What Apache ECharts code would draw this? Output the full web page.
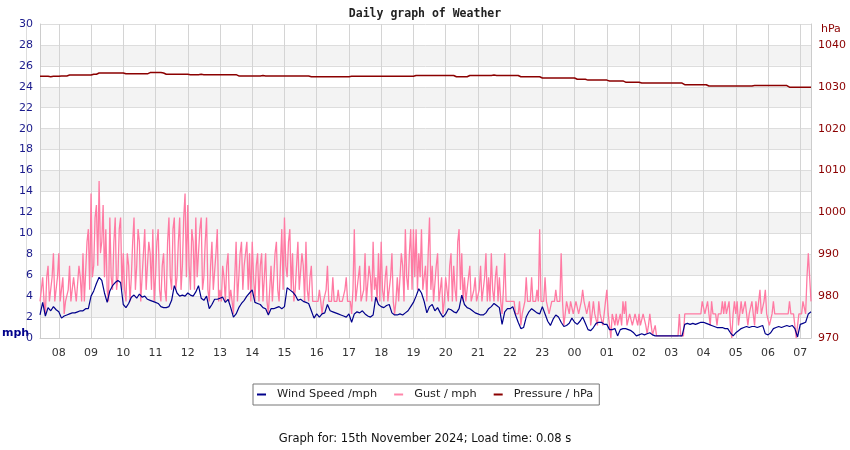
<!DOCTYPE html>
<html><head><meta charset="utf-8">
<script src="https://cdn.jsdelivr.net/npm/echarts@6/dist/echarts.min.js"></script>
<style>html,body{margin:0;padding:0;background:#fff}#c{width:850px;height:450px}</style>
</head><body><div id="c"></div>
<script>
// wind / pressure: 5-minute readings from 07:25 (14 Nov) to 07:20 (15 Nov)
// gust: 2.5-minute readings over the same span
const START_MIN = 7 * 60 + 25;
const STEP_MIN = 5;
const N_POINTS = 288;
const GUST_STEP_MIN = 2.5;
const N_GUST = 575;

const seriesNames = ['Wind Speed /mph', 'Gust / mph', 'Pressure / hPa'];

// Wind speed, mph (per hour block)
const windSpeed = [
  2.2, 3.4, 2.1, 2.9, 2.6, 3.0, 2.7,
  2.5, 1.9, 2.1, 2.2, 2.3, 2.4, 2.4, 2.5, 2.6, 2.6, 2.8, 2.8,
  4.0, 4.5, 5.2, 5.8, 5.5, 4.3, 3.4, 4.5, 5.0, 5.3, 5.5, 5.3,
  3.2, 2.9, 3.3, 3.9, 4.1, 3.8, 4.2, 3.9, 4.0, 3.7, 3.6, 3.5,
  3.4, 3.3, 3.0, 2.9, 2.9, 3.0, 3.6, 5.0, 4.3, 4.0, 4.1, 4.0,
  4.3, 4.1, 4.0, 4.4, 5.0, 3.8, 3.6, 4.0, 2.8, 3.2, 3.7, 3.7,
  3.8, 3.9, 3.4, 3.7, 2.9, 2.0, 2.3, 2.9, 3.3, 3.6, 4.0, 4.3,
  4.6, 3.4, 3.3, 3.2, 2.9, 2.8, 2.2, 2.8, 2.8, 2.9, 3.0, 2.8,
  3.0, 4.8, 4.6, 4.4, 4.1, 3.6, 3.7, 3.5, 3.4, 3.3, 2.6, 1.9,
  2.3, 2.0, 2.3, 2.4, 3.2, 2.6, 2.5, 2.4, 2.3, 2.2, 2.1, 2.0,
  2.3, 1.5, 2.3, 2.5, 2.4, 2.6, 2.3, 2.1, 2.0, 2.2, 3.9, 3.2,
  3.0, 2.9, 3.1, 3.2, 2.4, 2.2, 2.2, 2.3, 2.2, 2.4, 2.6, 3.0,
  3.4, 4.0, 4.7, 4.3, 3.5, 2.4, 3.0, 3.2, 2.6, 2.9, 2.4, 2.0,
  2.3, 2.8, 2.7, 2.5, 2.4, 2.8, 4.1, 3.2, 2.9, 2.8, 2.6, 2.4,
  2.3, 2.2, 2.2, 2.4, 2.8, 3.0, 3.3, 3.1, 2.9, 1.3, 2.5, 2.8,
  2.8, 3.0, 2.2, 1.5, 0.9, 1.0, 2.0, 2.5, 2.8, 2.6, 2.4, 2.3,
  3.0, 2.3, 1.6, 1.2, 1.8, 2.2, 2.0, 1.5, 1.1, 1.2, 1.4, 1.9,
  1.5, 1.3, 1.6, 2.0, 1.4, 0.8, 0.7, 1.0, 1.4, 1.5, 1.5, 1.3,
  1.3, 0.8, 0.8, 0.9, 0.2, 0.8, 0.9, 0.9, 0.8, 0.7, 0.5, 0.2,
  0.3, 0.4, 0.3, 0.4, 0.5, 0.3, 0.2, 0.2, 0.2, 0.2, 0.2, 0.2,
  0.2, 0.2, 0.2, 0.2, 0.2, 1.3, 1.4, 1.3, 1.4, 1.3, 1.4, 1.5,
  1.5, 1.4, 1.3, 1.2, 1.1, 1.0, 1.0, 1.0, 0.9, 0.9, 0.5, 0.2,
  0.5, 0.7, 0.9, 1.0, 1.1, 1.0, 1.1, 1.1, 1.0, 1.1, 1.2, 0.4,
  0.3, 0.5, 0.9, 1.0, 1.1, 1.0, 1.1, 1.2, 1.1, 1.2, 0.9, 0.1,
  1.3, 1.4, 1.5, 2.3, 2.5
];

// Gust, mph (2.5-minute readings, per hour block)
const gust = [
  3.5, 4.6, 5.8, 3.5, 2.3, 5.8, 6.9, 3.5, 3.5, 5.8, 8.1, 3.5, 3.5, 5.8,
  8.1, 3.5, 3.5, 5.8, 2.3, 3.5, 3.5, 4.6, 6.9, 3.5, 3.5, 5.8, 4.6, 3.5, 3.5, 6.9, 5.8, 3.5, 8.1, 3.5, 3.5, 9.2, 10.4, 4.6,
  13.8, 5.8, 6.9, 11.5, 12.7, 6.9, 15.0, 8.1, 9.2, 12.7, 5.8, 10.4, 4.6, 3.5, 11.5, 5.8, 4.6, 9.2, 11.5, 4.6, 5.8, 10.4, 11.5, 4.6,
  8.1, 4.6, 3.5, 8.1, 6.9, 3.5, 5.8, 9.2, 11.5, 4.6, 6.9, 10.4, 9.2, 3.5, 5.8, 8.1, 10.4, 4.6, 6.9, 9.2, 8.1, 4.6, 10.4, 3.5,
  5.8, 9.2, 10.4, 4.6, 3.5, 6.9, 8.1, 4.6, 3.5, 9.2, 11.5, 5.8, 4.6, 10.4, 11.5, 4.6, 5.8, 9.2, 11.5, 4.6, 6.9, 11.5, 13.8, 5.8,
  12.7, 6.9, 4.6, 10.4, 9.2, 4.6, 11.5, 5.8, 8.1, 10.4, 11.5, 4.6, 5.8, 9.2, 11.5, 4.6, 3.5, 6.9, 9.2, 4.6, 4.6, 8.1, 10.4, 3.5,
  4.6, 3.5, 6.9, 5.8, 3.5, 6.9, 8.1, 3.5, 4.6, 3.5, 2.3, 5.8, 9.2, 3.5, 5.8, 8.1, 9.2, 4.6, 6.9, 8.1, 9.2, 4.6, 8.1, 3.5,
  9.2, 5.8, 3.5, 6.9, 8.1, 3.5, 6.9, 8.1, 3.5, 5.8, 8.1, 3.5, 2.3, 4.6, 6.9, 3.5, 3.5, 8.1, 9.2, 4.6, 3.5, 6.9, 10.4, 4.6,
  11.5, 6.9, 5.8, 9.2, 10.4, 4.6, 8.1, 3.5, 4.6, 6.9, 9.2, 4.6, 4.6, 8.1, 6.9, 3.5, 9.2, 4.6, 3.5, 5.8, 6.9, 3.5, 3.5, 3.5,
  3.5, 3.5, 4.6, 3.5, 2.3, 3.5, 3.5, 4.6, 6.9, 3.5, 3.5, 3.5, 5.8, 3.5, 3.5, 3.5, 4.6, 3.5, 3.5, 3.5, 3.5, 4.6, 5.8, 3.5,
  3.5, 3.5, 2.3, 4.6, 10.4, 3.5, 3.5, 5.8, 6.9, 3.5, 3.5, 4.6, 8.1, 3.5, 3.5, 6.9, 5.8, 3.5, 9.2, 4.6, 5.8, 3.5, 8.1, 3.5,
  9.2, 4.6, 3.5, 5.8, 6.9, 3.5, 3.5, 5.8, 8.1, 3.5, 2.3, 3.5, 5.8, 3.5, 3.5, 8.1, 6.9, 3.5, 10.4, 5.8, 4.6, 8.1, 10.4, 4.6,
  10.4, 5.8, 10.4, 4.6, 8.1, 5.8, 10.4, 4.6, 5.8, 6.9, 3.5, 8.1, 11.5, 4.6, 6.9, 3.5, 3.5, 6.9, 8.1, 3.5, 4.6, 5.8, 2.3, 3.5,
  5.8, 4.6, 3.5, 6.9, 8.1, 3.5, 6.9, 4.6, 3.5, 9.2, 10.4, 4.6, 8.1, 3.5, 5.8, 3.5, 3.5, 5.8, 6.9, 3.5, 3.5, 4.6, 5.8, 3.5,
  3.5, 4.6, 6.9, 3.5, 3.5, 5.8, 8.1, 3.5, 5.8, 3.5, 8.1, 4.6, 3.5, 5.8, 6.9, 3.5, 5.8, 3.5, 2.3, 4.6, 8.1, 3.5, 3.5, 3.5,
  3.5, 3.5, 3.5, 3.5, 2.3, 2.3, 2.3, 3.5, 1.2, 2.3, 2.3, 3.5, 5.8, 3.5, 3.5, 3.5, 5.8, 3.5, 3.5, 3.5, 4.6, 3.5, 10.4, 3.5,
  3.5, 3.5, 5.8, 3.5, 3.5, 2.3, 2.3, 3.5, 3.5, 3.5, 4.6, 3.5, 3.5, 3.5, 8.1, 3.5, 1.2, 2.3, 3.5, 3.5, 2.3, 3.5, 3.5, 2.3,
  2.3, 3.5, 3.5, 2.3, 2.3, 3.5, 4.6, 3.5, 3.5, 2.3, 2.3, 3.5, 1.2, 2.3, 3.5, 2.3, 2.3, 1.2, 3.5, 2.3, 2.3, 1.2, 2.3, 3.5,
  4.6, 2.3, 1.2, 0.0, 2.3, 2.3, 1.2, 2.3, 1.2, 1.2, 2.3, 1.2, 3.5, 2.3, 3.5, 1.2, 1.2, 2.3, 2.3, 1.2, 1.2, 2.3, 2.3, 1.2,
  2.3, 1.2, 1.2, 2.3, 2.3, 1.2, 0.4, 1.2, 2.3, 1.2, 0.3, 0.3, 1.2, 0.2, 0.2, 0.2, 0.2, 0.2, 0.2, 0.2, 0.2, 0.2, 0.2, 0.2,
  0.2, 0.2, 0.2, 0.2, 0.2, 0.2, 2.3, 0.2, 0.2, 0.2, 2.3, 2.3, 2.3, 2.3, 2.3, 2.3, 2.3, 2.3, 2.3, 2.3, 2.3, 2.3, 2.3, 3.5,
  3.5, 2.3, 2.3, 3.5, 2.3, 1.2, 3.5, 2.3, 2.3, 2.3, 1.2, 2.3, 2.3, 2.3, 3.5, 2.3, 3.5, 2.3, 2.3, 3.5, 1.2, 0.0, 2.3, 3.5,
  2.3, 3.5, 1.2, 2.3, 3.5, 2.3, 2.3, 3.5, 3.5, 1.2, 2.3, 2.3, 3.5, 2.3, 1.2, 3.5, 2.3, 2.3, 4.6, 2.3, 2.3, 3.5, 4.6, 2.3,
  2.3, 1.2, 1.2, 2.3, 3.5, 2.3, 2.3, 2.3, 2.3, 2.3, 2.3, 2.3, 2.3, 2.3, 2.3, 2.3, 3.5, 2.3, 2.3, 2.3, 2.3, 0.0, 1.2, 2.3,
  2.3, 2.3, 3.5, 3.5, 2.3, 5.8, 8.1, 5.8, 3.5
];

// Pressure, hPa
const pressure = [
  1032.5, 1032.5, 1032.5, 1032.4, 1032.5, 1032.5, 1032.5,
  1032.6, 1032.6, 1032.6, 1032.8, 1032.8, 1032.8, 1032.8, 1032.8, 1032.8, 1032.8, 1032.8, 1032.8,
  1033.0, 1033.0, 1033.3, 1033.3, 1033.3, 1033.3, 1033.3, 1033.3, 1033.3, 1033.3, 1033.3, 1033.3,
  1033.1, 1033.1, 1033.1, 1033.1, 1033.1, 1033.1, 1033.1, 1033.1, 1033.1, 1033.4, 1033.4, 1033.4,
  1033.4, 1033.4, 1033.3, 1033.0, 1033.0, 1033.0, 1033.0, 1033.0, 1033.0, 1033.0, 1033.0, 1033.0,
  1032.9, 1032.9, 1032.9, 1032.9, 1033.0, 1032.9, 1032.9, 1032.9, 1032.9, 1032.9, 1032.9, 1032.9,
  1032.9, 1032.9, 1032.9, 1032.9, 1032.9, 1032.9, 1032.6, 1032.6, 1032.6, 1032.6, 1032.6, 1032.6,
  1032.6, 1032.6, 1032.6, 1032.7, 1032.6, 1032.6, 1032.6, 1032.6, 1032.6, 1032.6, 1032.6, 1032.6,
  1032.6, 1032.6, 1032.6, 1032.6, 1032.6, 1032.6, 1032.6, 1032.6, 1032.6, 1032.4, 1032.4, 1032.4,
  1032.4, 1032.4, 1032.4, 1032.4, 1032.4, 1032.4, 1032.4, 1032.4, 1032.4, 1032.4, 1032.4, 1032.4,
  1032.5, 1032.5, 1032.5, 1032.5, 1032.5, 1032.5, 1032.5, 1032.5, 1032.5, 1032.5, 1032.5, 1032.5,
  1032.5, 1032.5, 1032.5, 1032.5, 1032.5, 1032.5, 1032.5, 1032.5, 1032.5, 1032.5, 1032.5, 1032.5,
  1032.7, 1032.7, 1032.7, 1032.7, 1032.7, 1032.7, 1032.7, 1032.7, 1032.7, 1032.7, 1032.7, 1032.7,
  1032.7, 1032.7, 1032.7, 1032.4, 1032.4, 1032.4, 1032.4, 1032.4, 1032.7, 1032.7, 1032.7, 1032.7,
  1032.7, 1032.7, 1032.7, 1032.7, 1032.7, 1032.8, 1032.7, 1032.7, 1032.7, 1032.7, 1032.7, 1032.7,
  1032.7, 1032.7, 1032.7, 1032.4, 1032.4, 1032.4, 1032.4, 1032.4, 1032.4, 1032.4, 1032.4, 1032.1,
  1032.1, 1032.1, 1032.1, 1032.1, 1032.1, 1032.1, 1032.1, 1032.1, 1032.1, 1032.1, 1032.1, 1032.1,
  1031.8, 1031.8, 1031.8, 1031.8, 1031.6, 1031.6, 1031.6, 1031.6, 1031.6, 1031.6, 1031.6, 1031.6,
  1031.4, 1031.4, 1031.4, 1031.4, 1031.4, 1031.4, 1031.1, 1031.1, 1031.1, 1031.1, 1031.1, 1031.1,
  1030.9, 1030.9, 1030.9, 1030.9, 1030.9, 1030.9, 1030.9, 1030.9, 1030.9, 1030.9, 1030.9, 1030.9,
  1030.9, 1030.9, 1030.9, 1030.9, 1030.5, 1030.5, 1030.5, 1030.5, 1030.5, 1030.5, 1030.5, 1030.5,
  1030.5, 1030.2, 1030.2, 1030.2, 1030.2, 1030.2, 1030.2, 1030.2, 1030.2, 1030.2, 1030.2, 1030.2,
  1030.2, 1030.2, 1030.2, 1030.2, 1030.2, 1030.2, 1030.3, 1030.3, 1030.3, 1030.3, 1030.3, 1030.3,
  1030.3, 1030.3, 1030.3, 1030.3, 1030.3, 1030.3, 1030.3, 1029.9, 1029.9, 1029.9, 1029.9, 1029.9,
  1029.9, 1029.9, 1029.9, 1029.9, 1029.8
];

// axis ranges / ticks
const mphAxis = { min: 0, max: 30, interval: 2 };
const hpaAxis = { min: 970, max: 1045, interval: 10, lastLabel: 1040 };

const titleText = 'Daily graph of Weather';
const footerText = 'Graph for: 15th November 2024; Load time: 0.08 s';

// category labels
function clock(totalMin) {
  const t = ((totalMin % 1440) + 1440) % 1440;
  const hh = String(Math.floor(t / 60)).padStart(2, '0');
  const mm = String(Math.floor(t % 60)).padStart(2, '0');
  const ss = (t % 1) ? ':30' : ':00';
  return hh + ':' + mm + ss;
}
const times = [];
for (let i = 0; i < N_POINTS; i++) times.push(clock(START_MIN + i * STEP_MIN).slice(0, 5));
const gustTimes = [];
for (let i = 0; i < N_GUST; i++) gustTimes.push(clock(START_MIN + i * GUST_STEP_MIN));
const onHour = (idx, v) => v.endsWith(':00');

const FONT = 'DejaVu Sans';
const chart = echarts.init(document.getElementById('c'), null, { renderer: 'canvas' });
chart.setOption({
  animation: false,
  backgroundColor: '#fff',
  title: {
    text: titleText, left: 'center', top: 3,
    textStyle: { fontFamily: 'DejaVu Sans Mono', fontWeight: 'bold', fontSize: 11.5, color: '#222' }
  },
  grid: { left: 40, right: 39, top: 24, bottom: 112, containLabel: false },
  legend: {
    data: seriesNames, left: 253, top: 384, icon: 'rect', itemWidth: 9, itemHeight: 2, itemGap: 17,
    borderColor: '#777', borderWidth: 1, borderRadius: 0, padding: [5, 6, 5, 4],
    textStyle: { fontFamily: FONT, fontSize: 11.3, color: '#222', padding: [0, 0, 0, 6] }
  },
  xAxis: [
    {
      type: 'category', data: times, boundaryGap: false,
      axisLine: { show: true, lineStyle: { color: '#cccccc' } },
      axisTick: { show: false },
      axisLabel: { interval: onHour, formatter: v => v.slice(0, 2), color: '#333', fontFamily: FONT, fontSize: 11, margin: 10 },
      splitLine: { show: true, interval: onHour, lineStyle: { color: '#d4d4d4', width: 1 } }
    },
    { type: 'category', data: gustTimes, boundaryGap: false, show: false }
  ],
  yAxis: [
    {
      type: 'value', position: 'left', min: mphAxis.min, max: mphAxis.max, interval: mphAxis.interval,
      axisLine: { show: true, lineStyle: { color: '#cccccc' } },
      axisTick: { show: false },
      axisLabel: { color: '#1a1a8c', fontFamily: FONT, fontSize: 11, margin: 7 },
      splitLine: { show: true, lineStyle: { color: '#dddddd' } },
      splitArea: { show: true, areaStyle: { color: ['#ffffff', '#f3f3f3'] } }
    },
    {
      type: 'value', position: 'right', min: hpaAxis.min, max: hpaAxis.max, interval: hpaAxis.interval,
      axisLine: { show: true, lineStyle: { color: '#cccccc' } },
      axisTick: { show: false },
      axisLabel: { color: '#8b0000', fontFamily: FONT, fontSize: 11, margin: 7,
        formatter: v => (v > hpaAxis.lastLabel ? '' : String(v)) },
      splitLine: { show: false }
    }
  ],
  series: [
    { name: seriesNames[1], type: 'line', data: gust, xAxisIndex: 1, yAxisIndex: 0, showSymbol: false, symbol: 'none',
      lineStyle: { color: '#ff7aa3', width: 1.3 }, itemStyle: { color: '#ff86aa' }, z: 2 },
    { name: seriesNames[0], type: 'line', data: windSpeed, xAxisIndex: 0, yAxisIndex: 0, showSymbol: false, symbol: 'none',
      lineStyle: { color: '#00008b', width: 1.2 }, itemStyle: { color: '#00008b' }, z: 3 },
    { name: seriesNames[2], type: 'line', data: pressure, xAxisIndex: 0, yAxisIndex: 1, showSymbol: false, symbol: 'none', step: 'end',
      lineStyle: { color: '#8b0000', width: 1.5 }, itemStyle: { color: '#8b0000' }, z: 4 }
  ],
  graphic: [
    { type: 'line', shape: { x1: 26.5, y1: 24, x2: 26.5, y2: 338 }, style: { stroke: '#dddddd', lineWidth: 1 }, z: -1 },
    { type: 'text', left: 2, top: 328, style: { text: 'mph', font: 'bold 11px "DejaVu Sans"', fill: '#00008b' } },
    { type: 'text', left: 821, top: 24, style: { text: 'hPa', font: '11px "DejaVu Sans"', fill: '#8b0000' } },
    { type: 'text', left: 'center', top: 433, style: { text: footerText, font: '11.5px "DejaVu Sans"', fill: '#111' } }
  ]
});
</script>
</body></html>
